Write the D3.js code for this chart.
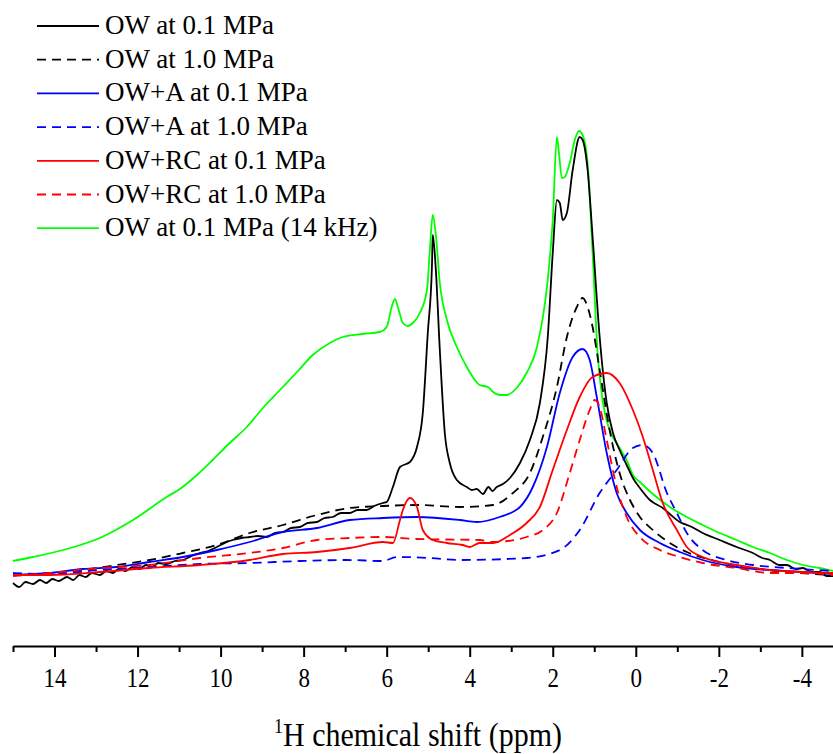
<!DOCTYPE html>
<html>
<head>
<meta charset="utf-8">
<script src="https://cdn.jsdelivr.net/npm/d3@7"></script>
<style>
  body { margin: 0; background: #fff; }
  svg text { font-family: "Liberation Serif", "Times New Roman", serif; fill: #000; }
</style>
</head>
<body>
<script>

// DATA  ([ppm, intensity], arbitrary units)
// =============================================================================

const owLow = [[15.00,7.4],[14.85,6.6],[14.70,7.6],[14.52,7.2],[14.35,8.0],[14.20,7.4],[14.05,8.2],[13.90,7.8],[13.70,8.6],[13.55,8.0],[13.40,9.0],[13.25,8.6],[13.10,9.4],[12.91,9.0],[12.75,9.8],[12.60,9.4],[12.45,10.2],[12.30,9.8],[12.11,10.6],[11.95,10.2],[11.80,11.0],[11.65,10.6],[11.50,11.4],[11.30,11.2],[11.10,11.8],[10.91,12.0],[10.70,12.8],[10.50,13.4],[10.30,13.8],[10.09,14.6],[9.90,15.4],[9.71,16.0],[9.50,16.4],[9.30,16.6],[9.10,16.8],[8.89,16.6],[8.70,17.4],[8.50,17.6],[8.30,18.4],[8.09,18.6],[7.90,19.4],[7.68,19.6],[7.50,20.4],[7.30,20.6],[7.10,21.4],[6.89,21.4],[6.70,22.0],[6.48,22.0],[6.30,22.8],[6.09,23.4],[6.00,23.6],[5.85,26.6],[5.68,30.6],[5.44,31.6],[5.27,34.6],[5.13,41.4],[5.01,57.4],[4.91,70.6],[4.89,77.0],[4.82,70.6],[4.72,54.0],[4.60,37.4],[4.48,31.4],[4.31,28.0],[4.07,26.6],[3.95,26.0],[3.83,26.2],[3.68,25.2],[3.55,26.6],[3.45,25.8],[3.35,26.6],[3.20,27.2],[3.03,28.4],[2.79,31.4],[2.55,36.0],[2.31,43.4],[2.12,56.6],[2.00,73.4],[1.90,84.0],[1.83,83.4],[1.76,80.0],[1.66,81.4],[1.52,90.0],[1.35,96.6],[1.28,96.0],[1.16,90.0],[1.04,76.6],[0.87,56.6],[0.70,43.4],[0.55,37.4],[0.39,34.0],[0.22,31.0],[0.07,28.4],[-0.10,26.4],[-0.34,24.0],[-0.65,22.4],[-1.06,19.6],[-1.35,18.6],[-1.61,17.4],[-2.02,16.0],[-2.43,14.6],[-2.82,13.4],[-3.05,12.4],[-3.23,12.0],[-3.45,11.0],[-3.64,11.0],[-3.85,10.2],[-4.02,10.4],[-4.25,9.6],[-4.43,9.6],[-4.60,8.8],[-4.75,8.8]];

const owHigh = [[15.00,9.0],[14.11,9.4],[13.32,10.0],[12.50,11.0],[11.71,12.0],[10.91,13.4],[10.09,15.0],[9.30,17.4],[8.50,19.0],[7.68,21.0],[6.89,22.4],[6.09,22.8],[5.27,23.0],[4.24,22.6],[3.44,23.0],[2.96,25.4],[2.55,29.4],[2.24,36.6],[1.90,46.6],[1.66,56.6],[1.42,62.6],[1.28,64.4],[1.16,62.6],[1.04,58.6],[0.87,50.0],[0.63,38.0],[0.39,29.4],[0.14,24.0],[-0.10,20.6],[-0.41,18.0],[-0.82,15.4],[-1.23,13.6],[-2.02,11.6],[-2.82,10.4],[-3.64,9.6],[-4.75,9.0]];

const owaLow = [[15.00,9.0],[14.11,9.4],[13.32,10.2],[12.50,10.6],[11.71,11.6],[10.91,12.6],[10.09,14.0],[9.30,15.6],[8.50,17.6],[7.68,18.4],[6.89,20.0],[6.09,20.4],[5.27,20.6],[4.24,20.0],[3.83,19.6],[3.28,20.6],[2.79,22.6],[2.48,26.6],[2.14,34.6],[1.83,45.4],[1.52,52.6],[1.28,54.2],[1.11,52.0],[0.94,44.6],[0.70,33.4],[0.46,25.4],[0.22,21.4],[-0.10,18.0],[-0.58,15.4],[-1.06,13.6],[-1.61,12.0],[-2.43,10.6],[-3.23,10.0],[-4.02,9.6],[-4.75,9.2]];

const owaHigh = [[15.00,9.4],[14.11,9.2],[12.91,10.0],[11.71,10.6],[10.50,11.2],[9.30,11.4],[8.09,11.8],[6.96,12.0],[6.09,11.8],[5.76,12.6],[4.96,12.4],[4.24,12.0],[2.63,12.4],[1.83,14.0],[1.35,18.0],[0.87,25.4],[0.46,30.0],[0.07,34.4],[-0.17,35.0],[-0.41,33.4],[-0.75,25.4],[-0.99,21.4],[-1.23,17.4],[-1.61,14.0],[-2.19,12.0],[-2.82,11.0],[-3.64,10.4],[-4.75,9.8]];

const owrcLow = [[15.00,9.0],[14.11,9.0],[12.91,9.6],[11.71,10.4],[10.50,11.0],[9.30,12.0],[8.50,13.2],[7.68,13.6],[6.89,14.4],[6.09,15.6],[5.85,15.4],[5.68,20.0],[5.61,22.0],[5.44,24.4],[5.27,22.6],[5.13,18.0],[4.89,16.0],[4.55,15.4],[4.17,15.0],[4.00,14.6],[3.76,15.4],[3.44,15.4],[3.03,17.0],[2.63,19.4],[2.31,22.6],[2.00,30.0],[1.66,38.0],[1.35,44.6],[1.04,48.6],[0.70,49.4],[0.39,47.4],[0.07,42.0],[-0.17,36.6],[-0.41,30.0],[-0.65,23.4],[-0.99,18.0],[-1.23,14.6],[-1.61,12.6],[-2.43,11.0],[-3.23,10.0],[-4.02,9.6],[-4.75,9.4]];

const owrcHigh = [[15.00,8.8],[14.11,9.4],[12.91,10.4],[11.71,11.0],[10.50,12.4],[9.30,13.4],[8.50,14.4],[7.68,16.0],[6.89,16.4],[6.09,16.6],[5.27,16.2],[3.76,16.0],[3.44,15.6],[2.63,16.6],[2.24,18.0],[1.90,21.4],[1.59,29.4],[1.35,36.0],[1.11,42.0],[0.99,44.0],[0.87,42.6],[0.70,36.0],[0.46,26.6],[0.22,20.6],[-0.10,16.6],[-0.58,14.0],[-1.06,12.6],[-1.61,11.4],[-2.43,10.4],[-3.23,9.4],[-4.02,9.4],[-4.75,9.0]];

const ow14k = [[15.00,11.8],[14.52,12.6],[13.70,14.2],[12.91,16.4],[12.11,20.0],[11.30,24.6],[10.98,26.2],[10.57,29.0],[10.19,32.0],[9.78,35.4],[9.37,38.6],[8.98,42.4],[8.57,46.0],[8.16,49.6],[7.78,53.0],[7.37,55.4],[7.06,56.6],[6.58,57.2],[6.17,57.6],[6.00,58.6],[5.88,62.6],[5.80,64.2],[5.73,62.6],[5.61,59.4],[5.49,58.8],[5.37,59.4],[5.20,61.4],[5.03,66.0],[4.96,74.0],[4.89,81.0],[4.82,77.4],[4.72,67.4],[4.55,60.0],[4.31,54.6],[4.07,50.6],[3.76,47.0],[3.56,46.6],[3.44,45.6],[3.28,45.0],[3.11,45.0],[2.87,46.4],[2.63,49.4],[2.38,54.6],[2.14,66.6],[2.00,80.0],[1.90,96.6],[1.85,93.4],[1.78,88.4],[1.71,88.6],[1.59,91.4],[1.47,96.0],[1.37,97.8],[1.28,97.0],[1.16,91.4],[1.04,73.4],[0.92,53.4],[0.79,43.4],[0.63,38.0],[0.39,34.4],[0.22,32.0],[0.07,29.0],[-0.10,27.6],[-0.41,25.2],[-0.82,22.6],[-1.23,20.6],[-1.61,19.0],[-2.02,17.4],[-2.43,16.0],[-2.82,14.6],[-3.23,13.4],[-3.64,12.0],[-4.02,11.0],[-4.43,10.4],[-4.75,9.8]];

const seriesNames = [
  "OW at 0.1 MPa",
  "OW at 1.0 MPa",
  "OW+A at 0.1 MPa",
  "OW+A at 1.0 MPa",
  "OW+RC at 0.1 MPa",
  "OW+RC at 1.0 MPa",
  "OW at 0.1 MPa (14 kHz)"
];
const seriesValues = [owLow, owHigh, owaLow, owaHigh, owrcLow, owrcHigh, ow14k];
const seriesColors = ["#000000", "#000000", "#0000ff", "#0000ff", "#ff0000", "#ff0000", "#00ff00"];
const seriesDashed = [false, true, false, true, false, true, false];

const majorTicks = [14, 12, 10, 8, 6, 4, 2, 0, -2, -4];
const minorTicks = [15, 13, 11, 9, 7, 5, 3, 1, -1, -3];

// CONFIG VARS
// =============================================================================

const width = 833;
const height = 754;
const axisY = 646;
const serif = "'Liberation Serif', 'Times New Roman', serif";
// the original export is a bit stretched vertically, so axis text is too
const stretch = 1.15;

// SCALES
// =============================================================================

const xScale = d3.scaleLinear()
    .domain([15, -4.75])
    .range([13, 833]);

const yScale = d3.scaleLinear()
    .domain([0, 100])
    .range([620, 120]);

// INITIALIZE THE SVG
// =============================================================================

const svg = d3.select("body")
    .append("svg")
    .attr("width", width)
    .attr("height", height)
    .attr("font-family", serif);

// SPECTRA
// =============================================================================

const line = d3.line()
    .x(d => xScale(d[0]))
    .y(d => yScale(d[1]))
    .curve(d3.curveMonotoneX);

// draw the green one first so the others sit on top like in the original
const order = [6, 0, 1, 2, 3, 4, 5];

svg.append("g")
    .selectAll("path")
    .data(order)
    .enter()
    .append("path")
    .attr("d", i => line(seriesValues[i]))
    .attr("fill", "none")
    .attr("stroke", i => seriesColors[i])
    .attr("stroke-width", 1.8)
    .attr("stroke-dasharray", i => seriesDashed[i] ? "9,6" : null);

// AXIS
// =============================================================================

const xAxis = svg.append("g")
    .attr("transform", `translate(0,${axisY})`)
    .call(d3.axisBottom(xScale)
        .tickValues(majorTicks)
        .tickSize(11)
        .tickSizeOuter(0)
        .tickFormat(d => String(d)));

xAxis.attr("font-family", serif);
xAxis.select(".domain").attr("stroke-width", 2.2);
xAxis.selectAll(".tick line").attr("stroke-width", 2);
xAxis.selectAll(".tick text")
    .attr("font-size", 23)
    .attr("fill", "#000")
    .attr("y", 0)
    .attr("dy", null)
    .attr("transform", `translate(0,41) scale(1,${stretch})`);

const xMinor = svg.append("g")
    .attr("transform", `translate(0,${axisY})`)
    .call(d3.axisBottom(xScale)
        .tickValues(minorTicks)
        .tickSize(6)
        .tickFormat(""));

xMinor.select(".domain").remove();
xMinor.selectAll(".tick line").attr("stroke-width", 2);

const title = svg.append("text")
    .attr("text-anchor", "middle")
    .attr("font-size", 30)
    .attr("transform", `translate(418,746) scale(1,${stretch})`);

title.append("tspan")
    .attr("font-size", 18)
    .attr("dy", -11)
    .text("1");
title.append("tspan")
    .attr("dy", 11)
    .text("H chemical shift (ppm)");

// LEGEND
// =============================================================================

const legend = svg.append("g")
    .selectAll("g")
    .data(seriesNames)
    .enter()
    .append("g")
    .attr("transform", (d, i) => `translate(0,${26 + i * 33.7})`);

legend.append("line")
    .attr("x1", 37)
    .attr("x2", 99)
    .attr("stroke", (d, i) => seriesColors[i])
    .attr("stroke-width", 1.8)
    .attr("stroke-dasharray", (d, i) => seriesDashed[i] ? "9,6" : null);

legend.append("text")
    .attr("x", 105)
    .attr("y", 8)
    .attr("font-size", 27)
    .text(d => d);

</script>
</body>
</html>
